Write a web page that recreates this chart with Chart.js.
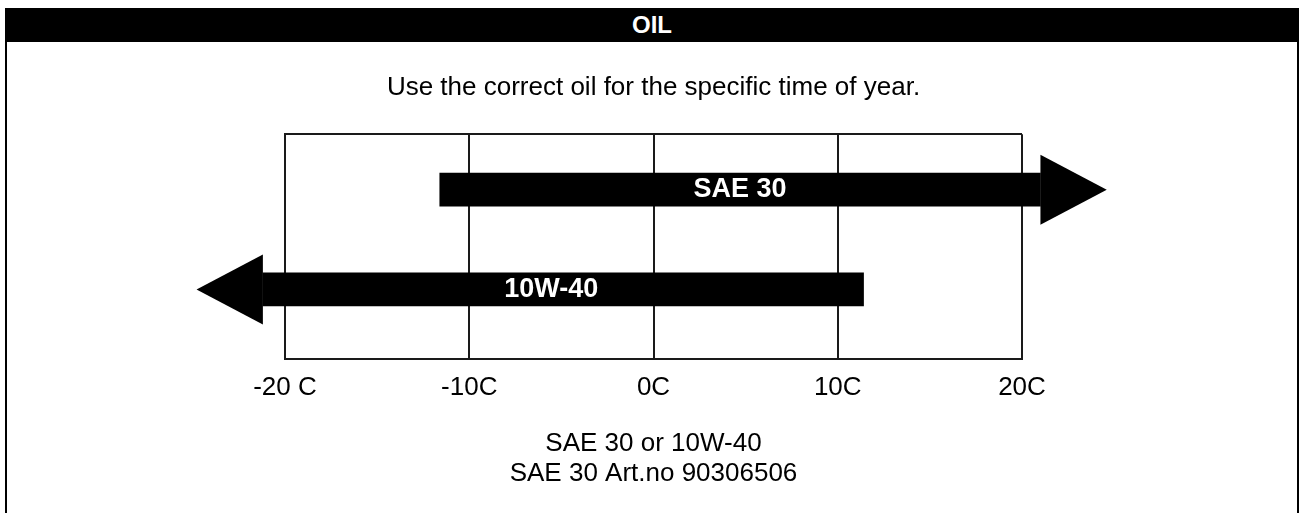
<!DOCTYPE html>
<html lang="en">
<head>
    <meta charset="UTF-8">
    <title>OIL</title>
    <script src="https://cdn.jsdelivr.net/npm/chart.js"></script>
<style>
        body {
            margin: 0;
            background-color: #ffffff;
            font-family: "Liberation Sans", Arial, sans-serif;
        }
        .frame {
            position: absolute;
            left: 5px;
            top: 8px;
            width: 1294px;
            height: 540px;
            border-left: 2px solid #000;
            border-right: 2px solid #000;
            box-sizing: border-box;
        }
        .header {
            position: absolute;
            left: 5px;
            top: 8px;
            width: 1294px;
            height: 34px;
            line-height: 34px;
            background-color: #000;
            color: #fff;
            font-weight: bold;
            font-size: 24px;
            text-align: center;
        }
        #chart {
            position: absolute;
            left: 7px;
            top: 42px;
        }
    </style>
</head>
<body>
    <div class="frame"></div>
    <div class="header">OIL</div>
    <canvas id="chart" width="1290" height="471"></canvas>

    <script>
        // Datos
        const oils = ['SAE 30', '10W-40'];
        const rangeFrom = [-11.6, -21.2];
        const rangeTo = [21.0, 11.4];
        const arrowTips = [24.6, -24.8];
        const rowLevel = [0.753, 0.309];
        const tickValues = [-20, -10, 0, 10, 20];
        const tickLabels = ['-20 C', '-10C', '0C', '10C', '20C'];

        Chart.defaults.font.family = '"Liberation Sans", Arial, sans-serif';
        Chart.defaults.color = '#000';

        // Puntas de flecha y nombres dentro de las barras
        const arrowPlugin = {
            id: 'arrows',
            afterDatasetsDraw(chart) {
                const ctx = chart.ctx;
                const xScale = chart.scales.x;
                const meta = chart.getDatasetMeta(0);
                meta.data.forEach((bar, i) => {
                    const left = Math.min(bar.x, bar.base);
                    const right = Math.max(bar.x, bar.base);
                    const tip = xScale.getPixelForValue(arrowTips[i]);
                    const headBase = tip > right ? right : left;
                    ctx.save();
                    ctx.fillStyle = '#000';
                    ctx.beginPath();
                    ctx.moveTo(headBase, bar.y - 35);
                    ctx.lineTo(tip, bar.y);
                    ctx.lineTo(headBase, bar.y + 35);
                    ctx.closePath();
                    ctx.fill();

                    ctx.fillStyle = '#fff';
                    ctx.font = 'bold 27px "Liberation Sans", Arial, sans-serif';
                    ctx.textAlign = 'center';
                    ctx.textBaseline = 'middle';
                    ctx.fillText(oils[i], (left + right) / 2 - (i === 1 ? 12 : 0), bar.y);
                    ctx.restore();
                });
            }
        };

        new Chart(document.getElementById('chart').getContext('2d'), {
            type: 'bar',
            data: {
                datasets: [{
                    label: 'Oil',
                    data: oils.map((name, i) => ({ x: [rangeFrom[i], rangeTo[i]], y: rowLevel[i] })),
                    backgroundColor: '#000',
                    borderWidth: 0,
                    barThickness: 33,
                    clip: false
                }]
            },
            options: {
                indexAxis: 'y',
                responsive: false,
                animation: false,
                layout: {
                    padding: { left: 278, right: 275, top: 0, bottom: 0 }
                },
                scales: {
                    x: {
                        type: 'linear',
                        min: -20,
                        max: 20,
                        afterBuildTicks: axis => {
                            axis.ticks = tickValues.map(v => ({ value: v }));
                        },
                        ticks: {
                            padding: 13,
                            font: { size: 26 },
                            color: '#000',
                            callback: (value) => tickLabels[tickValues.indexOf(value)]
                        },
                        grid: {
                            color: '#1a1a1a',
                            lineWidth: 2,
                            drawTicks: false
                        },
                        border: { color: '#1a1a1a', width: 2 }
                    },
                    y: {
                        type: 'linear',
                        min: 0,
                        max: 1,
                        offset: false,
                        afterBuildTicks: axis => {
                            axis.ticks = [{ value: 0 }, { value: 1 }];
                        },
                        ticks: { display: false },
                        grid: {
                            color: '#1a1a1a',
                            lineWidth: 2,
                            offset: false,
                            drawTicks: false
                        },
                        border: { color: '#1a1a1a', width: 2 }
                    }
                },
                plugins: {
                    legend: { display: false },
                    tooltip: { enabled: false },
                    title: {
                        display: true,
                        text: 'Use the correct oil for the specific time of year.',
                        color: '#000',
                        font: { size: 26, weight: 'normal', lineHeight: 1.2 },
                        padding: { top: 30, bottom: 31 }
                    },
                    subtitle: {
                        display: true,
                        position: 'bottom',
                        text: ['SAE 30 or 10W-40', 'SAE 30 Art.no 90306506'],
                        color: '#000',
                        font: { size: 26, weight: 'normal', lineHeight: 1.154 },
                        padding: { top: 13, bottom: 24 }
                    }
                }
            },
            plugins: [arrowPlugin]
        });
    </script>
</body>
</html>
